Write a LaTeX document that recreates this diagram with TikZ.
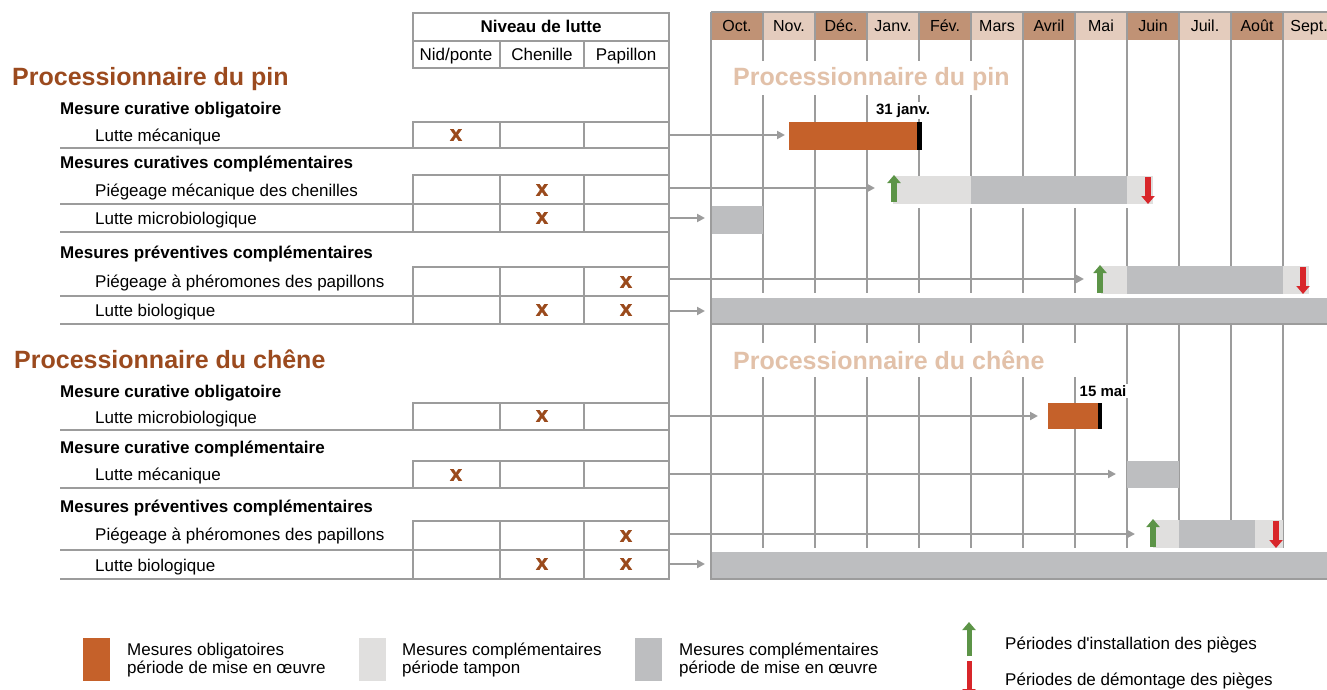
\documentclass[tikz,border=0pt]{standalone}
\usepackage{fontspec}
\setmainfont{Liberation Sans}[Ligatures=TeXOff]
\newfontface\heavyx{Liberation Sans Bold}[FakeBold=1.6]
\usetikzlibrary{arrows.meta}
\definecolor{orng}{HTML}{C5612A}
\definecolor{tamp}{HTML}{E0DFDE}
\definecolor{dgray}{HTML}{BDBEC0}
\definecolor{gline}{HTML}{9C9C9C}
\definecolor{hdark}{HTML}{C09275}
\definecolor{hlight}{HTML}{E4CCBD}
\definecolor{ttan}{HTML}{E2C1A9}
\definecolor{brn}{HTML}{9B4A1E}
\definecolor{xbrn}{HTML}{9A4A1C}
\definecolor{grn}{HTML}{5C9447}
\definecolor{rd}{HTML}{D8262A}
\tikzset{
  gl/.style={draw=gline, line width=2pt},
  conn/.style={draw=gline, line width=2pt, -{Triangle[length=8pt,width=8pt]}},
  lbl/.style={anchor=base west, inner sep=0pt, font=\fontsize{17}{20}\selectfont},
  sublbl/.style={anchor=base west, inner sep=0pt, font=\fontsize{17}{20}\selectfont\bfseries},
  ttl/.style={anchor=base west, inner sep=0pt, font=\fontsize{25}{30}\selectfont\bfseries, text=brn},
  cttl/.style={anchor=base west, inner sep=0pt, font=\fontsize{25}{30}\selectfont\bfseries, text=ttan},
  xm/.style={inner sep=0pt, font=\fontsize{22}{22}\heavyx, text=xbrn},
  mon/.style={anchor=base, inner sep=0pt, font=\fontsize{16}{19}\selectfont},
  datelbl/.style={anchor=base, inner sep=1.5pt, fill=white, font=\fontsize{15}{18}\selectfont\bfseries},
  uparr/.style={draw=grn, line width=6pt, -{Triangle[length=8pt,width=13pt]}},
  dnarr/.style={draw=rd, line width=6pt, -{Triangle[length=8pt,width=13pt]}},
}
\begin{document}
\begin{tikzpicture}[x=1pt,y=-1pt]
\useasboundingbox (0,0) rectangle (1327,690);
% ---------- month header ----------
\foreach \k/\m in {0/Oct.,1/Nov.,2/Déc.,3/Janv.,4/Fév.,5/Mars,6/Avril,7/Mai,8/Juin,9/Juil.,10/Août,11/Sept.}{
  \ifodd\k
    \fill[hlight] ({711+52*\k},12) rectangle ({763+52*\k},40);
  \else
    \fill[hdark] ({711+52*\k},12) rectangle ({763+52*\k},40);
  \fi
  \node[mon] (m\k) at ({737+52*\k},32) {\m};
}
% ---------- grid ----------
\foreach \k in {1,...,11}{
  \draw[gl] ({711+52*\k},12) -- ({711+52*\k},579);
}
\draw[gl] (711,12) -- (1327,12);
% white gaps
\fill[white] (724,61) rectangle (1016,95);
\fill[white] (724,343) rectangle (1086,377);
\fill[white] (712,293) rectangle (1327,298);
\fill[white] (712,548) rectangle (1327,552);
\fill[white] (893,204) rectangle (1153,208);
\node[cttl] (ct1) at (733,86) {Processionnaire du pin};
\node[cttl] (ct2) at (733,369) {Processionnaire du chêne};
% ---------- bars : pin ----------
\fill[orng] (789,122) rectangle (917,150);
\fill[black] (917,122) rectangle (922,150);
\node[datelbl] (d1) at (903,114) {31 janv.};
\fill[tamp] (893,176) rectangle (971,204);
\fill[dgray] (971,176) rectangle (1127,204);
\fill[tamp] (1127,176) rectangle (1153,204);
\fill[dgray] (712,206) rectangle (763,234);
\fill[tamp] (1101,266) rectangle (1127,294);
\fill[dgray] (1127,266) rectangle (1283,294);
\fill[tamp] (1283,266) rectangle (1309,294);
\fill[dgray] (712,298) rectangle (1327,324);
% ---------- bars : oak ----------
\fill[orng] (1048,403) rectangle (1098,429);
\fill[black] (1098,403) rectangle (1102,429);
\node[datelbl] (d2) at (1103,396) {15 mai};
\fill[dgray] (1127,461) rectangle (1179,488);
\fill[tamp] (1153,520) rectangle (1179,548);
\fill[dgray] (1179,520) rectangle (1255,548);
\fill[tamp] (1255,520) rectangle (1283,548);
\fill[dgray] (712,552) rectangle (1327,579);
% frame lines
\draw[gl] (711,12) -- (711,580);
\draw[gl] (711,324) -- (1327,324);
\draw[gl] (711,579) -- (1327,579);
% trap arrows
\coordinate (g1a) at (894,202); \coordinate (g1b) at (894,175);
\coordinate (r1a) at (1148,177); \coordinate (r1b) at (1148,204);
\coordinate (g2a) at (1100,293); \coordinate (g2b) at (1100,265);
\coordinate (r2a) at (1303,267); \coordinate (r2b) at (1303,294);
\coordinate (g3a) at (1153,547); \coordinate (g3b) at (1153,519);
\coordinate (r3a) at (1276,521); \coordinate (r3b) at (1276,548);
\draw[uparr] (g1a) -- (g1b);
\draw[dnarr] (r1a) -- (r1b);
\draw[uparr] (g2a) -- (g2b);
\draw[dnarr] (r2a) -- (r2b);
\draw[uparr] (g3a) -- (g3b);
\draw[dnarr] (r3a) -- (r3b);
% ---------- connectors ----------
\foreach \n/\y/\t in {1/135/785, 2/188/875, 3/218/705, 4/279/1084, 5/311/705, 6/416/1038, 7/474/1116, 8/534/1135, 9/564/705}{
  \coordinate (s\n) at (669,\y);
  \coordinate (e\n) at (\t,\y);
  \draw[conn] (s\n) -- (e\n);
}
% ---------- left table ----------
\draw[gl] (413,13) rectangle (669,41);
\draw[gl] (413,41) rectangle (669,68);
\draw[gl] (500,41) -- (500,68);
\draw[gl] (584,41) -- (584,68);
\node[anchor=base, inner sep=0pt, font=\fontsize{17}{20}\selectfont\bfseries] (niv) at (541,33) {Niveau de lutte};
\node[anchor=base, inner sep=0pt, font=\fontsize{17}{20}\selectfont] (h1) at (456,61) {Nid/ponte};
\node[anchor=base, inner sep=0pt, font=\fontsize{17}{20}\selectfont] (h2) at (542,61) {Chenille};
\node[anchor=base, inner sep=0pt, font=\fontsize{17}{20}\selectfont] (h3) at (626,61) {Papillon};
\draw[gl] (669,13) -- (669,580);
\foreach \a/\b in {122/148, 175/204, 204/232, 267/296, 296/324, 403/430, 461/488, 521/550, 550/579}{
  \draw[gl] (413,\a) rectangle (669,\b);
  \draw[gl] (500,\a) -- (500,\b);
  \draw[gl] (584,\a) -- (584,\b);
}
\foreach \y in {148,204,232,296,324,430,488,550,579}{
  \draw[gl] (60,\y) -- (669,\y);
}
% marks
\foreach \n/\x/\y in {a/456/135, b/542/190, c/542/218, d/626/282, e/542/310, f/626/310,
                      g/542/416, h/456/475, i/626/536, j/542/564, k/626/564}{
  \node[xm] (x\n) at (\x,\y) {x};
}
% texts
\node[ttl] (t1) at (12,86) {Processionnaire du pin};
\node[sublbl] (p1) at (60,114) {Mesure curative obligatoire};
\node[lbl] (p2) at (95,141) {Lutte mécanique};
\node[sublbl] (p3) at (60,168) {Mesures curatives complémentaires};
\node[lbl] (p4) at (95,196) {Piégeage mécanique des chenilles};
\node[lbl] (p5) at (95,224) {Lutte microbiologique};
\node[sublbl] (p6) at (60,258) {Mesures préventives complémentaires};
\node[lbl] (p7) at (95,287) {Piégeage à phéromones des papillons};
\node[lbl] (p8) at (95,316) {Lutte biologique};
\node[ttl] (t2) at (14,368) {Processionnaire du chêne};
\node[sublbl] (q1) at (60,397) {Mesure curative obligatoire};
\node[lbl] (q2) at (95,423) {Lutte microbiologique};
\node[sublbl] (q3) at (60,453) {Mesure curative complémentaire};
\node[lbl] (q4) at (95,480) {Lutte mécanique};
\node[sublbl] (q5) at (60,512) {Mesures préventives complémentaires};
\node[lbl] (q6) at (95,540) {Piégeage à phéromones des papillons};
\node[lbl] (q7) at (95,571) {Lutte biologique};
% ---------- legend ----------
\fill[orng] (83,638) rectangle (110,681);
\fill[tamp] (359,638) rectangle (386,681);
\fill[dgray] (635,638) rectangle (662,681);
\node[lbl] (l1a) at (127,655) {Mesures obligatoires};
\node[lbl] (l1b) at (127,673) {période de mise en œuvre};
\node[lbl] (l2a) at (402,655) {Mesures complémentaires};
\node[lbl] (l2b) at (402,673) {période tampon};
\node[lbl] (l3a) at (679,655) {Mesures complémentaires};
\node[lbl] (l3b) at (679,673) {période de mise en œuvre};
\coordinate (lga) at (969,656); \coordinate (lgb) at (969,622);
\coordinate (lra) at (969,661); \coordinate (lrb) at (969,697);
\draw[uparr, line width=5pt] (lga) -- (lgb);
\draw[dnarr, line width=5pt] (lra) -- (lrb);
\node[lbl] (l4) at (1005,649) {Périodes d'installation des pièges};
\node[lbl] (l5) at (1005,685) {Périodes de démontage des pièges};
\end{tikzpicture}
\end{document}
